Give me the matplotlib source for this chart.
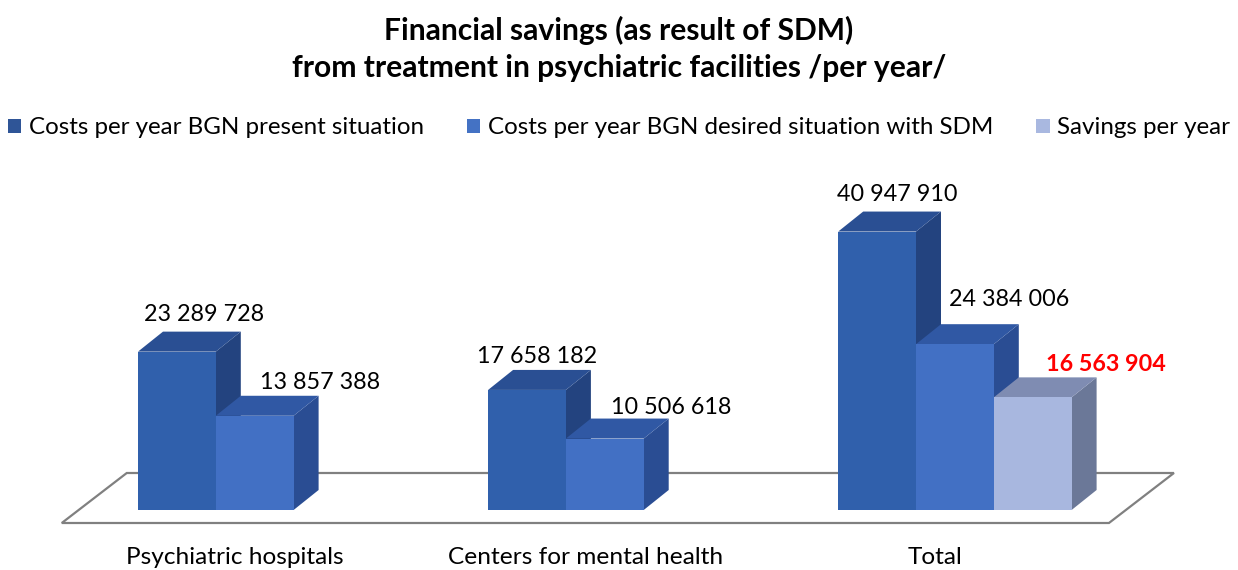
import numpy as np
import matplotlib.pyplot as plt
from matplotlib.patches import Polygon, Patch

plt.rcParams['font.family'] = ['Lato', 'DejaVu Sans']

categories = ['Psychiatric hospitals', 'Centers for mental health', 'Total']
series_names = ['Costs per year BGN present situation',
                'Costs per year BGN desired situation with SDM',
                'Savings per year']
present = [23289728, 17658182, 40947910]
desired = [13857388, 10506618, 24384006]
savings = [np.nan, np.nan, 16563904]

# face colours per series: front, top, side
front_col = ['#3060AC', '#4270C4', '#A8B7DF']
top_col = ['#2A4F93', '#3058A4', '#7F8CB2']
side_col = ['#23437F', '#2A4D93', '#6B7898']
legend_col = ['#2F5597', '#4472C4', '#A9B8E0']

# value label nudges (pixels) so the labels clear the neighbouring bars
label_shift = [[(2, 17), (40, 13)],
               [(-15, 13), (41, 11)],
               [(-5, 17), (29, 25), (48, 13)]]

group_step = 4.5
bar_w = 1.0
px_x = 77.8   # pixels per bar width
px_y = 6.8    # pixels per million
dep_x = 25 / px_x
dep_y = 20 / px_y

fig = plt.figure(figsize=(12.38, 5.70), dpi=100)
ax = fig.add_axes([0, 0, 1, 1])
ax.set_xlim(-138 / px_x, (1238 - 138) / px_x)
ax.set_ylim((510 - 570) / px_y, 510 / px_y)
ax.axis('off')

data = np.array([present, desired, savings], dtype=float) / 1e6

# floor plane
n_last = np.sum(~np.isnan(data[:, -1]))
fl_left = -0.98
fl_right = (len(categories) - 1) * group_step + n_last * bar_w + 0.48
fl_front = -13 / px_y
fl_dx, fl_dy = 65 / px_x, 50 / px_y
floor = Polygon([(fl_left, fl_front), (fl_right, fl_front),
                 (fl_right + fl_dx, fl_front + fl_dy), (fl_left + fl_dx, fl_front + fl_dy)],
                closed=True, facecolor='white', edgecolor='#808080', lw=1.6, zorder=1)
ax.add_patch(floor)

for g in range(len(categories)):
    x0 = g * group_step
    for s in range(3):
        v = data[s, g]
        if np.isnan(v):
            continue
        xl = x0 + s * bar_w
        xr = xl + bar_w
        side = Polygon([(xr, 0), (xr + dep_x, dep_y), (xr + dep_x, v + dep_y), (xr, v)],
                       closed=True, facecolor=side_col[s], edgecolor='none', zorder=2 + s)
        top = Polygon([(xl, v), (xr, v), (xr + dep_x, v + dep_y), (xl + dep_x, v + dep_y)],
                      closed=True, facecolor=top_col[s], edgecolor='none', zorder=2 + s)
        front = Polygon([(xl, 0), (xr, 0), (xr, v), (xl, v)],
                        closed=True, facecolor=front_col[s], edgecolor='none', zorder=2 + s)
        for p in (side, top, front):
            ax.add_patch(p)
        txt = '{:,}'.format(int(round(v * 1e6))).replace(',', ' ')
        is_sav = s == 2
        ax.annotate(txt, (xl + dep_x + bar_w / 2, v + dep_y),
                    xytext=label_shift[g][s], textcoords='offset pixels',
                    ha='center', va='center', fontsize=16.8,
                    color='#FF0000' if is_sav else 'black',
                    fontweight='bold' if is_sav else 'normal', zorder=10)
    ax.text(x0 + 1.25, (510 - 557) / px_y, categories[g], ha='center', va='center',
            fontsize=17.6)

fig.text(0.5, 1 - 30 / 570, 'Financial savings (as result of SDM)', ha='center', va='center',
         fontsize=21.6, fontweight='bold')
fig.text(0.5, 1 - 68 / 570, 'from treatment in psychiatric facilities /per year/', ha='center',
         va='center', fontsize=21.6, fontweight='bold')

handles = [Patch(facecolor=c, edgecolor='none') for c in legend_col]
fig.legend(handles, series_names, loc='center', bbox_to_anchor=(0.5, 1 - 128 / 570), ncol=3,
           frameon=False, fontsize=17.4, handlelength=0.55, handleheight=0.55,
           handletextpad=0.3, columnspacing=1.8, borderpad=0)

fig.savefig('out.png', dpi=100)
